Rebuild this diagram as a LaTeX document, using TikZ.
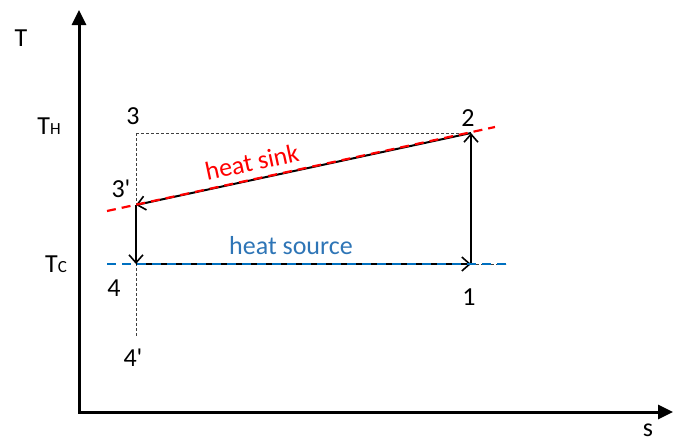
\documentclass[tikz,border=0pt]{standalone}
\usepackage{fontspec}
\setmainfont{Carlito}
\usetikzlibrary{arrows.meta}
\definecolor{sinkred}{RGB}{255,0,0}
\definecolor{srcblue}{RGB}{46,117,182}
\definecolor{srcdash}{RGB}{0,112,192}
\begin{document}
\begin{tikzpicture}[x=1pt,y=-1pt,
  lbl/.style={inner sep=0pt,font=\fontsize{26}{29}\selectfont},
  axis/.style={line width=3pt,-{Triangle[length=15pt,width=14pt]}},
  proc/.style={line width=2pt,-{Straight Barb[length=8pt,width=14pt,line width=1.6pt]}},
  guide/.style={line width=1pt,dash pattern=on 2.5pt off 2.5pt,black!75},
  sinkstyle/.style={line width=2.2pt,sinkred,dash pattern=on 9pt off 6pt},
  srcstyle/.style={line width=2.2pt,srcdash,dash pattern=on 9pt off 6pt}]
\useasboundingbox (0,0) rectangle (673,442);
% axes
\coordinate (O) at (79,412);
\coordinate (Ytop) at (79,10);
\coordinate (Xend) at (673,412);
\draw[axis] (O) -- (Ytop);
\draw[axis,line cap=rect] (O) -- (Xend);
% state points
\coordinate (p3) at (136,133);
\coordinate (p2) at (471,133);
\coordinate (p3p) at (136,205);
\coordinate (p4) at (136,264);
\coordinate (p1) at (471,264);
\coordinate (p4p) at (136,336);
\coordinate (sinkA) at (107,211);
\coordinate (sinkB) at (495,127);
\coordinate (srcA) at (107,264);
\coordinate (srcB) at (506,264);
% guides
\draw[guide] (p3) -- (p2);
\draw[guide] (p3) -- (p4p);
\draw[guide] (p1) -- (srcB);
% process lines
\draw[proc] (p2) -- (p3p);
\draw[proc] (p3p) -- (p4);
\draw[proc] (p4) -- (p1);
\draw[proc] (p1) -- (p2);
% heat sink / source lines
\draw[sinkstyle] (sinkA) -- (sinkB);
\draw[srcstyle] (srcA) -- (srcB);
% labels
\node[lbl] (lT) at (21,38) {T};
\node[lbl] (lTH) at (49,126) {T{\fontsize{17}{20}\selectfont H}};
\node[lbl] (lTC) at (56,264) {T{\fontsize{17}{20}\selectfont C}};
\node[lbl] (l3) at (133,116) {3};
\node[lbl] (l2) at (468,118) {2};
\node[lbl] (l3p) at (121,189) {3\textquotesingle};
\node[lbl] (l4) at (114,288) {4};
\node[lbl] (l1) at (469,297) {1};
\node[lbl] (l4p) at (133,358) {4\textquotesingle};
\node[lbl] (ls) at (648,430) {s};
\node[lbl,text=sinkred,rotate=12.1] (lsink) at (252,162) {heat sink};
\node[lbl,text=srcblue] (lsrc) at (291,246) {heat source};
\end{tikzpicture}
\end{document}
